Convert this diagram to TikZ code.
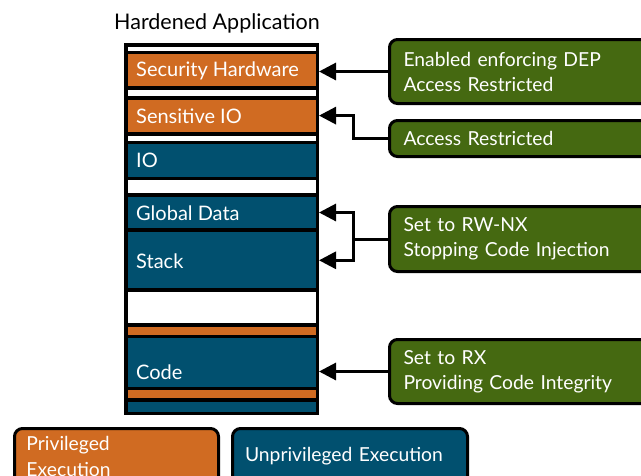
\documentclass[tikz,border=0pt]{standalone}
\usepackage{fontspec}
\setmainfont{Lato}
\usetikzlibrary{arrows.meta}
\definecolor{orng}{RGB}{208,107,34}
\definecolor{dblue}{RGB}{1,80,111}
\definecolor{grn}{RGB}{69,105,17}
\tikzset{
  seg/.style={fill=#1, draw=none, minimum width=188pt, anchor=north west, inner sep=0pt, outer sep=0pt},
  segtxt/.style={text=white, anchor=west, font=\fontsize{20}{22}\selectfont, inner sep=0pt},
  gbox/.style={draw=black, line width=3pt, fill=grn, rounded corners=8pt, anchor=north west,
    minimum width=290pt, minimum height=#1, text width=262pt, align=left, inner xsep=14pt,
    text=white, font=\fontsize{19.3}{25}\selectfont},
  lbox/.style={draw=black, line width=3pt, rounded corners=8pt, anchor=north west,
    minimum height=56pt, text=white, font=\fontsize{19.3}{26}\selectfont},
  arr/.style={line width=3pt, -{Triangle[length=17pt,width=17pt]}},
}
\begin{document}
\begin{tikzpicture}[x=1pt,y=-1pt]
\useasboundingbox (0,0) rectangle (641,475);
\clip (0,0) rectangle (641,475);
\node[font=\fontsize{21.5}{24}\selectfont, anchor=base] (title) at (217,29) {Hardened Application};
% stack
\node[fill=black, anchor=north west, minimum width=195pt, minimum height=372pt, inner sep=0pt, outer sep=0pt] (stack) at (124,43) {};
\node[seg=white, minimum height=4pt] (w1) at (128,46.7) {};
\node[seg=orng, minimum height=32pt] (sh) at (128,54) {};
\node[seg=white, minimum height=6pt] (w2) at (128,90) {};
\node[seg=orng, minimum height=32.2pt] (sio) at (128,99.5) {};
\node[seg=white, minimum height=4.7pt] (w3) at (128,136) {};
\node[seg=dblue, minimum height=32.7pt] (io) at (128,144) {};
\node[seg=white, minimum height=12.7pt] (w4) at (128,180) {};
\node[seg=dblue, minimum height=31.6pt] (gd) at (128,196.7) {};
\node[seg=dblue, minimum height=56pt] (st) at (128,232.3) {};
\node[seg=white, minimum height=31.6pt] (w5) at (128,291.7) {};
\node[seg=orng, minimum height=8.3pt] (o1) at (128,326.7) {};
\node[seg=dblue, minimum height=48.4pt] (code) at (128,338.3) {};
\node[seg=orng, minimum height=8.3pt] (o2) at (128,390) {};
\node[seg=dblue, minimum height=10pt] (b1) at (128,401.7) {};
\node[segtxt] (tsh) at (136,71) {Security Hardware};
\node[segtxt] (tsio) at (136,116) {Sensitive IO};
\node[segtxt] (tio) at (136,160) {IO};
\node[segtxt] (tgd) at (136,213) {Global Data};
\node[segtxt] (tst) at (136,261) {Stack};
\node[segtxt] (tcode) at (136,372) {Code};
% green boxes
\node[gbox=64pt] (g1) at (388,38) {Enabled enforcing DEP\\Access Restricted};
\node[gbox=36pt] (g2) at (388,119) {Access Restricted};
\node[gbox=65pt] (g3) at (388,205) {Set to RW-NX\\Stopping Code Injection};
\node[gbox=64pt] (g4) at (388,338) {Set to RX\\Providing Code Integrity};
% arrows
\draw[arr] (g1.west) -- (g1.west -| stack.east);
\draw[arr] (g2.west) -- ++(-35,0) |- (sio.center -| stack.east);
\draw[line width=3pt] (g3.west) -- ++(-35,0) coordinate (j3);
\draw[arr] (j3) |- (gd.center -| stack.east);
\draw[arr] (j3) |- (st.center -| stack.east);
\draw[arr] (g4.west) -- (g4.west -| stack.east);
% legend
\node[lbox, fill=orng, minimum width=200pt, text width=180pt, align=left, inner xsep=12pt] (priv) at (13,427) {Privileged\\Execution};
\node[lbox, fill=dblue, minimum width=235pt, text width=210pt, align=left, inner xsep=12pt] (unpriv) at (231,427) {Unprivileged Execution};
\end{tikzpicture}
\end{document}
